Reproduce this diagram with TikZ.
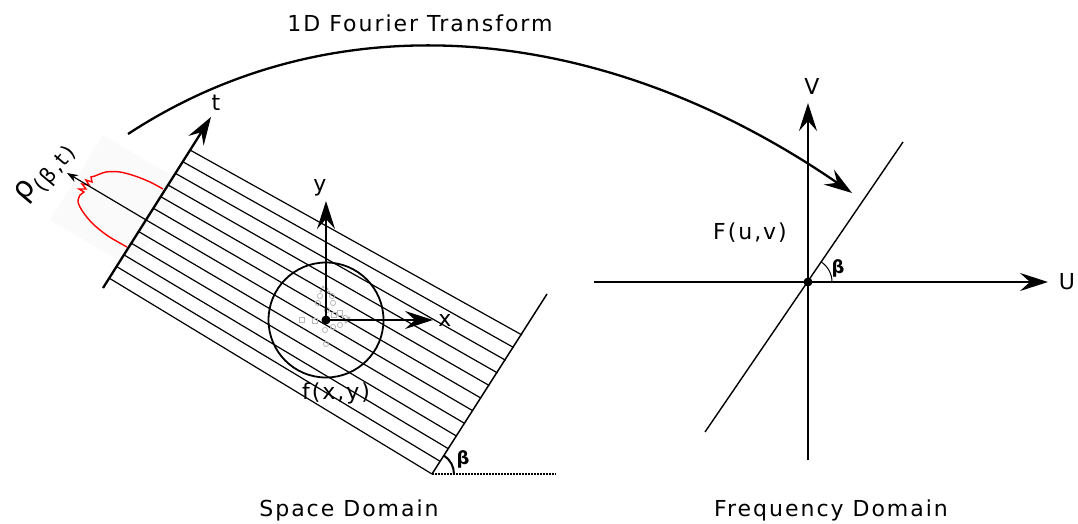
\documentclass[tikz,border=0pt]{standalone}
\usepackage{fontspec}
\setmainfont{DejaVu Sans}[LetterSpace=9]
\usetikzlibrary{arrows.meta, calc}

\tikzset{
  bigtip/.tip={Stealth[length=28pt,width=18pt,inset=10pt]},
  axis/.style={line width=2.3pt, -bigtip},
  stripe/.style={line width=1.2pt},
  lbl/.style={font=\fontsize{22}{24}\selectfont, inner sep=0pt},
  anglbl/.style={font=\fontsize{18}{20}\selectfont\bfseries, inner sep=0pt},
  snap/.style={gray!55, line width=0.8pt},
}

\begin{document}
\begin{tikzpicture}[x=1pt, y=-1pt]
  \useasboundingbox (0,0) rectangle (1078,524);

  % Space domain: edges of the band of parallel rays
  \coordinate (Ltop) at (190,150);
  \coordinate (Lbot) at (109,278);
  \coordinate (Rtop) at (522,335);
  \coordinate (Rbot) at (432,474);
  \coordinate (T0) at (103,288);
  \coordinate (T1) at (211,117);
  \coordinate (E1) at (547,294);
  \coordinate (O) at (326,320);
  \coordinate (Ytip) at (326,201);
  \coordinate (Xtip) at (433,320);
  \coordinate (rhoTip) at (67,173);
  \coordinate (Hend) at (556,474);

  % faint backdrop of the projection
  \fill[black!2] (50,220) -- (103,135) -- (186,184) -- (133,269) -- cycle;

  % parallel rays
  \foreach \i in {0,...,11}
    \draw[stripe] ($(Ltop)!\i/11!(Lbot)$) -- ($(Rtop)!\i/11!(Rbot)$);
  \coordinate (P6) at ($(Ltop)!6/11!(Lbot)$);

  % projection profile
  \draw[red, line width=1.4pt] plot[smooth] coordinates {
    (127,247) (108,236) (93,224) (83,212) (78,202) (80,195)}
    -- (84,192) -- (79,189) -- (86,189) -- (82,184) -- (89,185) -- (86,180)
    -- (92,182) -- (91,177) -- (95,176)
    plot[smooth] coordinates {(95,176) (106,172) (120,172) (135,176) (150,182) (163,189)};
  \draw[stripe, -{Stealth[length=11pt,width=8pt]}] (P6) -- (rhoTip);

  % detector line and far edge
  \draw[axis] (T0) -- (T1);
  \draw[line width=1.5pt] (Rbot) -- (E1);

  % object and its axes
  \draw[line width=1.8pt] (O) circle (57.5);
  \foreach \p in {(320,296),(332,296),(318,303),(333,303),(327,310),(325,330),(326,344),(345,318),(340,325),(333,327)}
    \draw[snap] \p circle (2.6);
  \foreach \p in {(302,320),(315,321),(334,315),(340,313)}
    \draw[snap] \p ++(-2.8,-2.8) rectangle ++(5.6,5.6);
  \foreach \p in {(323,287),(327,289),(321,291),(329,292),(349,318),(346,322)}
    \fill[gray!55] \p circle (1.6);
  \draw[axis] (O) -- (Ytip);
  \draw[axis] (O) -- (Xtip);
  \fill (O) circle (4.5);

  % angle of the rays
  \draw[line width=1.8pt, dash pattern=on 1.5pt off 1.5pt] (Rbot) -- (Hend);
  \draw[line width=2pt] ($(Rbot)+(22,0)$) arc[start angle=0, end angle=57, radius=22pt];

  % Labels
  \node[lbl] (tlbl) at (216,103) {t};
  \node[lbl] (ylbl) at (320,188) {y};
  \node[lbl] (xlbl) at (445,320) {x};
  \node[lbl] (flbl) at (336,393) {f(x,y)};
  \node[anglbl] (b1) at (463,459) {β};
  \node[lbl, rotate=50] (rholbl) at (46,174)
    {\fontsize{30}{30}\selectfont ρ\raisebox{-8pt}{\fontsize{21}{21}\selectfont(β,t)}};

  % Frequency domain
  \coordinate (F0) at (808,282);
  \coordinate (Uin) at (594,282);
  \coordinate (Utip) at (1048,282);
  \coordinate (Vin) at (808,460);
  \coordinate (Vtip) at (808,103);
  \coordinate (S0) at (705,432);
  \coordinate (S1) at (903,142);
  \draw[axis] (Uin) -- (Utip);
  \draw[axis] (Vin) -- (Vtip);
  \draw[line width=1.4pt] (S0) -- (S1);
  \draw[line width=1pt] ($(F0)+(24,0)$) arc[start angle=0, end angle=56, radius=24pt];
  \fill (F0) circle (4.5);
  \node[lbl] (ulbl) at (1067,282) {U};
  \node[lbl] (vlbl) at (812,86) {V};
  \node[lbl] (Flbl) at (750,233) {F(u,v)};
  \node[anglbl] (b2) at (838,268) {β};

  % Fourier transform arrow
  \coordinate (A0) at (128,134);
  \coordinate (A1) at (852,193);
  \draw[line width=2.3pt, -bigtip]
    (A0) .. controls (337,-3) and (605,23) .. (A1);
  \node[lbl] (title) at (420,23) {1D Fourier Transform};

  % Domain captions
  \node[lbl] (space) at (349,510) {Space Domain};
  \node[lbl] (freq) at (831,510) {Frequency Domain};
\end{tikzpicture}
\end{document}
